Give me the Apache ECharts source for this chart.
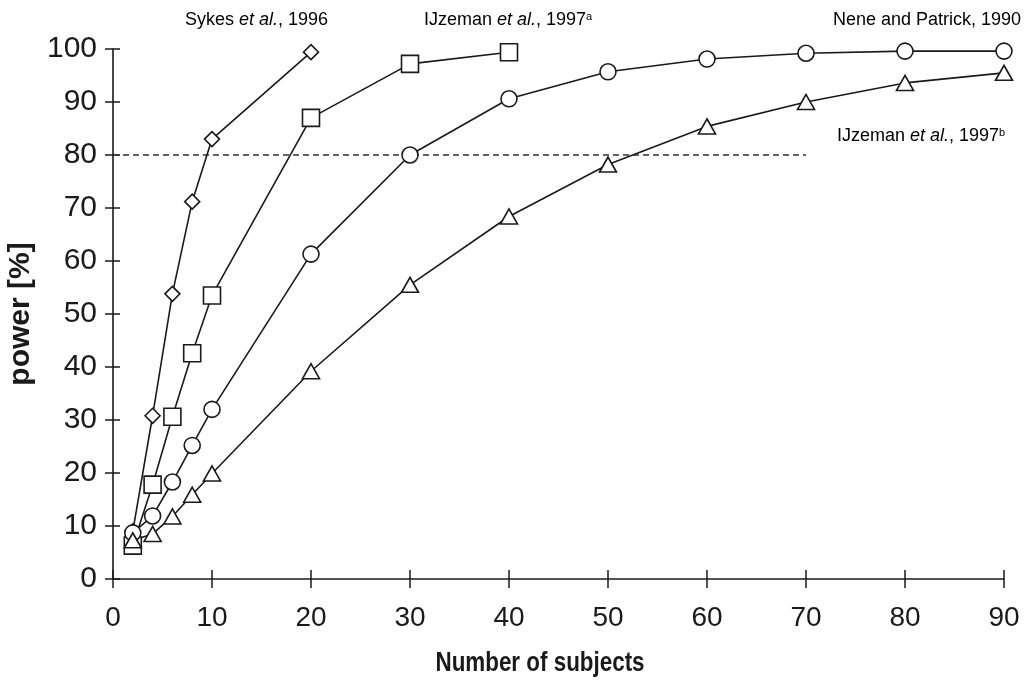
<!DOCTYPE html>
<html>
<head>
<meta charset="utf-8">
<script src="https://cdn.jsdelivr.net/npm/echarts@6/dist/echarts.min.js"></script>
<style>
  html, body { margin: 0; padding: 0; background: #fff; }
  #chart { width: 1034px; height: 683px; }
</style>
</head>
<body>
<div id="chart"></div>
<script>
// ---- data ----
const sykesX = [2, 4, 6, 8, 10, 20];
const sykesY = [9.0, 30.8, 53.8, 71.2, 83.0, 99.4];

const ijzAX = [2, 4, 6, 8, 10, 20, 30, 40];
const ijzAY = [6.3, 17.8, 30.6, 42.6, 53.5, 87.0, 97.2, 99.4];

const neneX = [2, 4, 6, 8, 10, 20, 30, 40, 50, 60, 70, 80, 90];
const neneY = [8.7, 11.9, 18.3, 25.2, 32.0, 61.3, 80.0, 90.6, 95.7, 98.1, 99.2, 99.6, 99.6];

const ijzBX = [2, 4, 6, 8, 10, 20, 30, 40, 50, 60, 70, 80, 90];
const ijzBY = [7.3, 8.5, 11.8, 15.9, 19.9, 39.2, 55.5, 68.4, 78.2, 85.4, 90.0, 93.6, 95.5];

const thresholdX = [0, 70];
const thresholdY = [80, 80];

const xTicks = [0, 90, 10];   // min, max, interval
const yTicks = [0, 100, 10];

// ---- build ----
const pair = (xs, ys) => xs.map((x, i) => [x, ys[i]]);
const INK = '#1a1a1a';

function lineSeries(name, xs, ys, symbol, size) {
  return {
    name, type: 'line', data: pair(xs, ys),
    symbol, symbolSize: size, showAllSymbol: true,
    lineStyle: { color: INK, width: 1.6 },
    itemStyle: { color: '#fff', borderColor: INK, borderWidth: 1.6 },
    emphasis: { disabled: true },
    z: 3
  };
}

const sans = '"Liberation Sans", Arial, sans-serif';

const chart = echarts.init(document.getElementById('chart'), null, { renderer: 'canvas' });
chart.setOption({
  animation: false,
  backgroundColor: '#fff',
  grid: { left: 113, right: 30, top: 49, bottom: 104, containLabel: false, outerBoundsMode: 'none' },
  xAxis: [
    {
      type: 'value', min: xTicks[0], max: xTicks[1], interval: xTicks[2],
      position: 'bottom',
      axisLine: { lineStyle: { color: INK, width: 1.6 } },
      axisTick: { show: true, length: 9, lineStyle: { color: INK, width: 1.5 } },
      axisLabel: { fontFamily: sans, fontSize: 28, color: INK, margin: 25 },
      splitLine: { show: false }
    },
    {
      type: 'value', min: xTicks[0], max: xTicks[1], interval: xTicks[2],
      position: 'bottom', offset: 0,
      axisLine: { show: false },
      axisTick: { show: true, inside: true, length: 9, lineStyle: { color: INK, width: 1.5 } },
      axisLabel: { show: false },
      splitLine: { show: false }
    }
  ],
  yAxis: [
    {
      type: 'value', min: yTicks[0], max: yTicks[1], interval: yTicks[2],
      position: 'left',
      axisLine: { show: true, lineStyle: { color: INK, width: 1.6 } },
      axisTick: { show: true, length: 8, lineStyle: { color: INK, width: 1.5 } },
      axisLabel: { fontFamily: sans, fontSize: 30, color: INK, margin: 16 },
      splitLine: { show: false },
      name: 'power [%]', nameLocation: 'middle', nameGap: 67, nameRotate: 90,
      nameTextStyle: { fontFamily: sans, fontWeight: 'bold', fontSize: 30, color: INK }
    },
    {
      type: 'value', min: yTicks[0], max: yTicks[1], interval: yTicks[2],
      position: 'left', offset: 0,
      axisLine: { show: false },
      axisTick: { show: true, inside: true, length: 7, lineStyle: { color: INK, width: 1.5 } },
      axisLabel: { show: false },
      splitLine: { show: false }
    }
  ],
  series: [
    {
      name: '80%', type: 'line', data: pair(thresholdX, thresholdY),
      symbol: 'none', lineStyle: { color: '#333', width: 1.3, type: [6, 4] },
      emphasis: { disabled: true }, z: 2
    },
    lineSeries('Sykes et al., 1996', sykesX, sykesY, 'diamond', [15, 15]),
    lineSeries('IJzeman et al., 1997a', ijzAX, ijzAY, 'rect', 17),
    lineSeries('Nene and Patrick, 1990', neneX, neneY, 'circle', 16),
    lineSeries('IJzeman et al., 1997b', ijzBX, ijzBY, 'triangle', [17, 15])
  ],
  graphic: (function () {
    const rich = {
      n: { fontFamily: sans, fontSize: 18, color: '#333', lineHeight: 22 },
      i: { fontFamily: sans, fontSize: 18, fontStyle: 'italic', color: '#333', lineHeight: 22 },
      s: { fontFamily: sans, fontSize: 11, color: '#333', lineHeight: 22, verticalAlign: 'top', padding: [2, 0, 0, 0] }
    };
    const mk = (x, y, text) => ({
      type: 'text', x, y, silent: true,
      style: { text, rich, verticalAlign: 'middle', align: 'left' }
    });
    return [
      mk(185, 20, '{n|Sykes }{i|et al.}{n|, 1996}'),
      mk(424, 20, '{n|IJzeman }{i|et al.}{n|, 1997}{s|a}'),
      mk(833, 20, '{n|Nene and Patrick, 1990}'),
      mk(837, 136, '{n|IJzeman }{i|et al.}{n|, 1997}{s|b}'),
      {
        type: 'text', x: 540, y: 663, scaleX: 0.8, silent: true,
        style: {
          text: 'Number of subjects', fontFamily: sans, fontWeight: 'bold',
          fontSize: 28, fill: INK, align: 'center', verticalAlign: 'middle'
        }
      }
    ];
  })()
});
</script>
</body>
</html>
